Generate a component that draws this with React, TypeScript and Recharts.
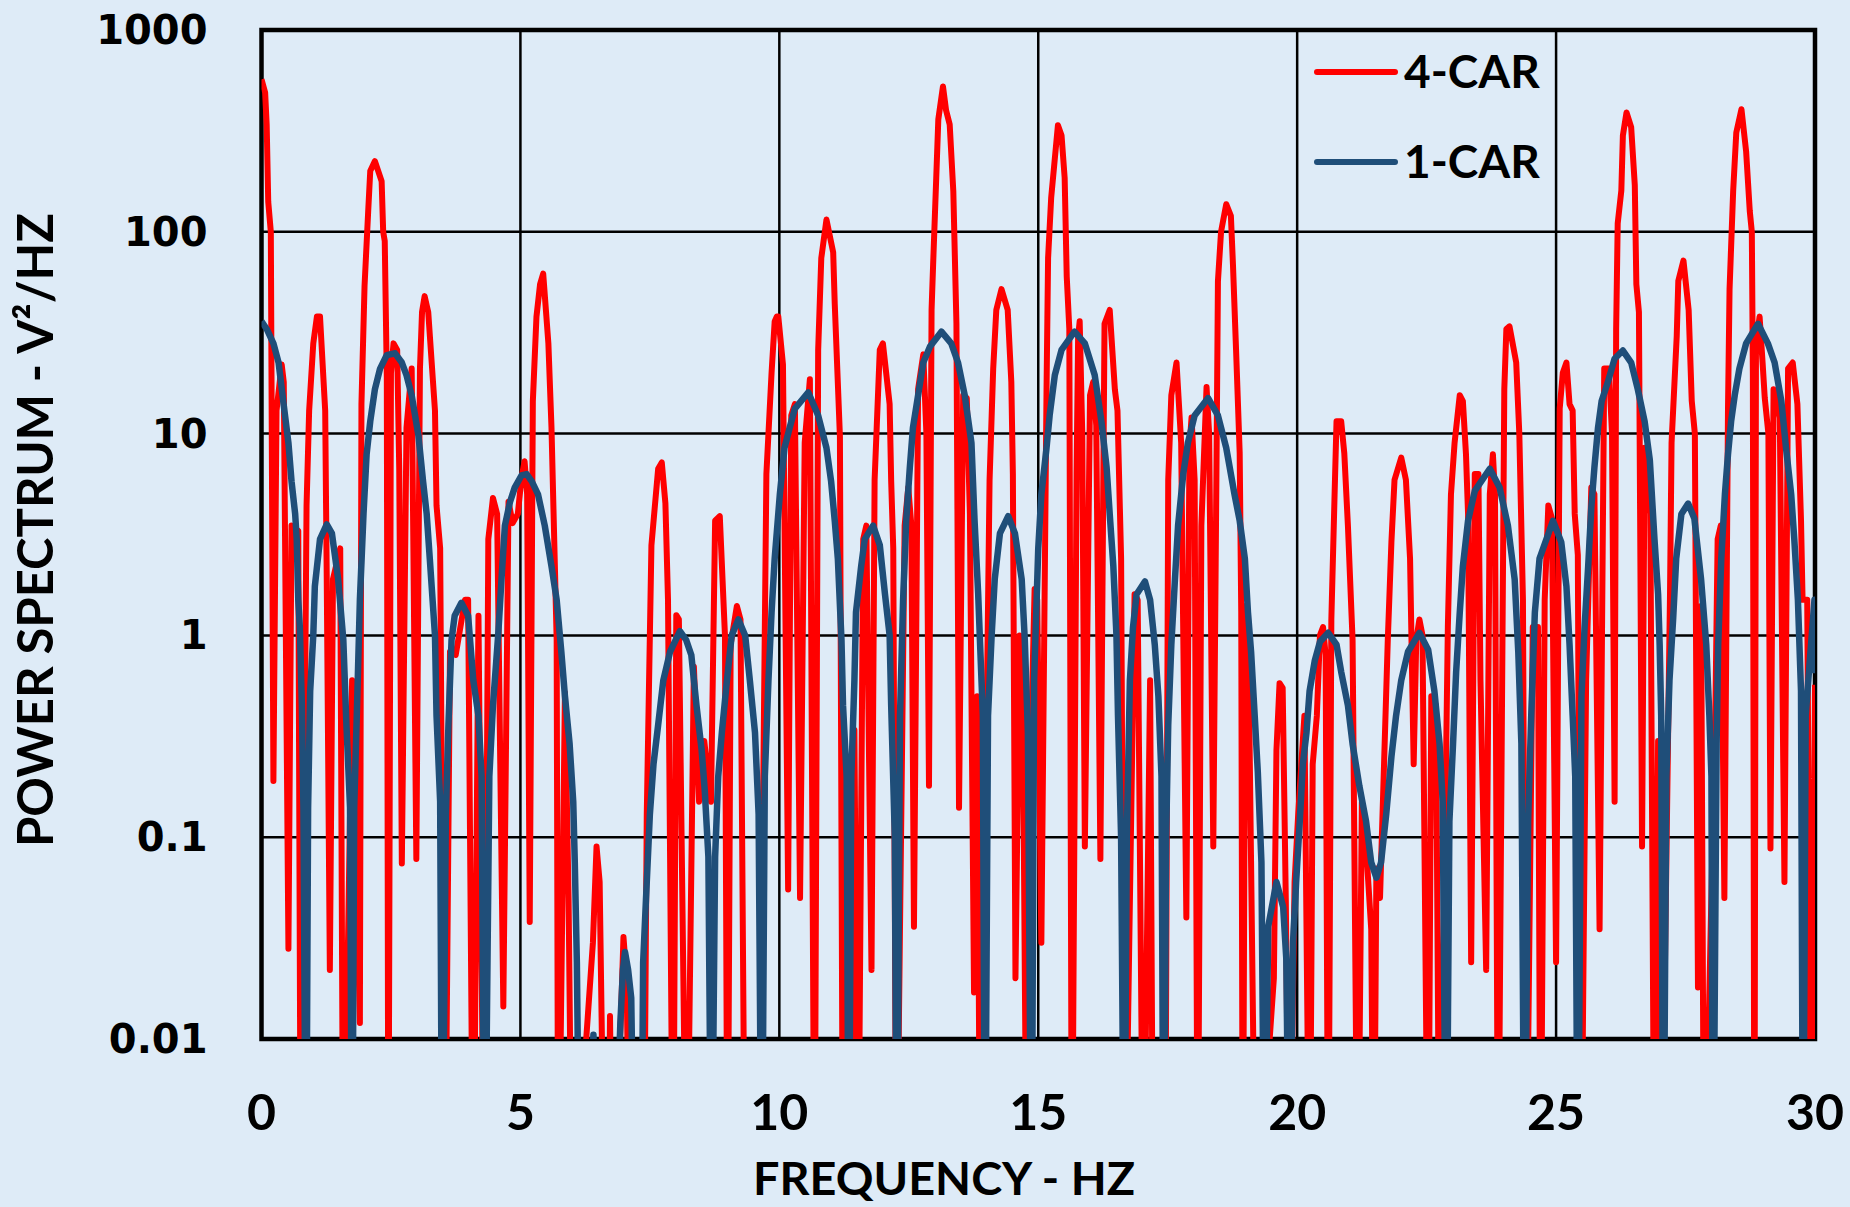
import React from 'react';
import {
  LineChart,
  Line,
  XAxis,
  YAxis,
  CartesianGrid,
  Legend,
  ReferenceArea,
} from 'recharts';

// [frequency Hz, power V²/Hz] — 4-car consist
const fourCar: [number, number][] = [
  [0.0, 570], [0.07, 490], [0.1, 340], [0.13, 141], [0.18, 100], [0.23, 0.19], [0.29, 13], [0.39, 22], [0.43, 18], [0.52, 0.028],
  [0.58, 3.5], [0.71, 3.3], [0.76, 0.001], [0.87, 4.4], [0.92, 13], [1.0, 28], [1.07, 38], [1.13, 38], [1.23, 13], [1.26, 1.9], [1.32, 0.022],
  [1.38, 1.9], [1.52, 2.7], [1.58, 0.001], [1.75, 0.6], [1.9, 0.012], [1.93, 14], [1.99, 54], [2.06, 126], [2.1, 200], [2.19, 224],
  [2.32, 178], [2.35, 100], [2.38, 90], [2.42, 19], [2.45, 0.001],
  [2.5, 20], [2.55, 28], [2.62, 26], [2.66, 6.7], [2.71, 0.074], [2.8, 10.7], [2.9, 21], [2.99, 0.078],
  [3.06, 21], [3.1, 40], [3.15, 48], [3.22, 40], [3.35, 13], [3.38, 4.4], [3.45, 2.7], [3.54, 0.001],
  [3.64, 0.83], [3.75, 0.8], [3.93, 1.5], [3.99, 1.5], [4.09, 0.001], [4.19, 1.25], [4.3, 0.001],
  [4.38, 3], [4.47, 4.8], [4.55, 4], [4.67, 0.0145], [4.77, 4.6], [4.85, 3.6], [4.95, 4], [5.02, 6], [5.08, 7.3], [5.13, 5], [5.18, 0.038],
  [5.24, 14.5], [5.31, 38], [5.38, 55], [5.44, 62], [5.54, 28], [5.6, 10.7], [5.7, 0.95], [5.73, 0.001],
  [5.86, 0.52], [5.93, 0.05], [6.0, 0.001],
  [6.4, 0.03], [6.47, 0.09], [6.53, 0.06], [6.63, 0.001],
  [6.7, 0.001], [6.73, 0.013], [6.78, 0.001], [6.95, 0.015], [6.99, 0.032], [7.05, 0.02], [7.12, 0.001],
  [7.38, 0.001], [7.44, 0.13], [7.53, 2.8], [7.66, 6.7], [7.73, 7.2], [7.8, 4.5], [7.85, 1.5], [7.95, 0.001],
  [8.01, 1.26], [8.06, 1.2], [8.21, 0.001],
  [8.35, 0.7], [8.45, 0.15], [8.55, 0.3], [8.68, 0.15], [8.76, 3.7], [8.85, 3.9], [8.95, 1.0], [9.0, 0.001],
  [9.06, 0.9], [9.18, 1.4], [9.25, 1.2], [9.34, 0.001],
  [9.6, 0.001], [9.75, 6.3], [9.85, 20], [9.91, 36], [9.95, 38], [9.98, 38], [10.07, 22], [10.17, 0.055],
  [10.23, 12.3], [10.3, 14], [10.4, 0.05],
  [10.49, 9], [10.59, 18.6], [10.68, 0.001],
  [10.75, 26], [10.81, 74], [10.91, 115], [11.04, 79], [11.07, 44], [11.17, 9.7], [11.23, 0.001],
  [11.38, 0.01], [11.45, 0.34], [11.52, 0.001],
  [11.62, 3], [11.68, 3.5], [11.78, 0.022],
  [11.84, 5.9], [11.94, 26], [12.0, 28], [12.13, 14], [12.16, 5.8], [12.2, 2.7], [12.26, 0.001],
  [12.42, 3.5], [12.49, 5.4], [12.55, 3.5], [12.6, 0.036],
  [12.68, 16.6], [12.78, 24.7], [12.84, 10], [12.89, 0.18],
  [12.94, 41], [12.97, 69], [13.03, 185], [13.07, 360], [13.16, 525], [13.22, 400], [13.29, 340], [13.36, 158], [13.42, 35], [13.47, 0.14],
  [13.55, 15.5], [13.62, 15], [13.68, 4], [13.76, 0.017],
  [13.82, 0.5], [13.88, 0.001],
  [14.06, 5.9], [14.13, 21], [14.19, 41], [14.29, 52], [14.41, 41], [14.48, 18], [14.51, 6.3], [14.56, 0.02],
  [14.64, 1.0], [14.7, 0.5], [14.78, 0.001],
  [14.88, 0.5], [14.93, 1.7], [14.98, 1.5], [15.06, 0.03],
  [15.16, 16.5], [15.19, 74], [15.25, 148], [15.38, 337], [15.45, 300], [15.51, 185], [15.55, 60], [15.6, 33], [15.65, 0.001],
  [15.74, 6.3], [15.77, 30], [15.8, 36], [15.85, 10], [15.9, 0.09],
  [16.0, 15.5], [16.06, 18], [16.12, 11], [16.2, 0.078],
  [16.28, 35], [16.38, 41], [16.48, 16.5], [16.53, 13], [16.6, 2.4], [16.67, 0.001],
  [16.86, 1.6], [16.92, 1.5], [17.03, 0.001], [17.16, 0.6], [17.22, 0.001],
  [17.45, 0.001], [17.51, 5.9], [17.57, 15.5], [17.67, 22.5], [17.76, 9], [17.86, 0.04],
  [17.92, 8.5], [17.96, 12], [18.02, 5.9], [18.08, 0.001],
  [18.15, 3.5], [18.25, 17], [18.3, 10], [18.38, 0.09],
  [18.44, 5.9], [18.47, 57], [18.53, 100], [18.63, 137], [18.72, 120], [18.76, 69], [18.82, 26], [18.89, 8], [18.92, 1.3], [18.95, 0.001],
  [19.0, 1.4], [19.05, 1.3], [19.2, 0.001],
  [19.55, 0.02], [19.6, 0.27], [19.66, 0.58], [19.72, 0.55], [19.78, 0.05], [19.85, 0.001],
  [19.95, 0.06], [20.02, 0.13], [20.08, 0.23], [20.14, 0.4], [20.24, 0.001],
  [20.3, 0.23], [20.38, 0.4], [20.44, 1.0], [20.5, 1.1], [20.55, 0.8], [20.6, 0.001],
  [20.66, 1.2], [20.72, 4.7], [20.76, 11.5], [20.85, 11.5], [20.91, 8], [20.98, 3.5], [21.07, 0.95], [21.17, 0.001],
  [21.25, 0.15], [21.3, 0.12], [21.43, 0.035], [21.48, 0.001], [21.53, 0.07], [21.6, 0.05],
  [21.75, 0.95], [21.82, 2.9], [21.88, 5.9], [22.01, 7.6], [22.1, 5.9], [22.18, 2.4], [22.25, 0.23], [22.3, 0.95], [22.36, 1.2], [22.42, 1.0], [22.53, 0.001],
  [22.59, 0.5], [22.68, 0.45], [22.75, 0.001],
  [22.91, 1.1], [22.97, 5], [23.04, 9], [23.14, 15.5], [23.2, 14.5], [23.26, 7.9], [23.3, 4], [23.36, 0.024],
  [23.43, 6.3], [23.5, 6.3], [23.54, 0.6], [23.65, 0.022],
  [23.72, 5], [23.78, 7.9], [23.82, 5], [23.88, 0.001],
  [24.0, 16.6], [24.04, 33], [24.1, 34], [24.23, 22.5], [24.29, 10], [24.36, 1.5], [24.42, 0.001],
  [24.55, 1.1], [24.65, 1.1], [24.7, 0.001],
  [24.78, 1.5], [24.85, 4.4], [24.92, 3.8], [25.0, 0.024],
  [25.07, 13.3], [25.13, 20], [25.2, 22.5], [25.26, 14], [25.32, 13], [25.36, 4], [25.42, 2.5], [25.48, 0.001],
  [25.58, 0.6], [25.68, 5.4], [25.74, 5], [25.84, 0.035],
  [25.9, 2.7], [25.93, 21], [26.02, 21], [26.08, 10], [26.13, 0.15],
  [26.16, 33], [26.19, 110], [26.26, 160], [26.29, 300], [26.36, 390], [26.45, 330], [26.52, 170], [26.55, 55], [26.6, 40], [26.66, 0.09],
  [26.71, 8.5], [26.75, 7.5], [26.82, 4], [26.9, 0.001],
  [26.97, 0.3], [27.03, 0.001],
  [27.2, 1.6], [27.23, 9], [27.33, 30.5], [27.36, 57], [27.46, 72], [27.56, 41], [27.62, 14.5], [27.68, 10], [27.74, 0.018],
  [27.8, 1.4], [27.86, 0.001],
  [28.08, 0.5], [28.12, 3], [28.18, 3.5], [28.25, 0.05],
  [28.32, 13.3], [28.35, 52], [28.42, 160], [28.48, 310], [28.58, 405], [28.67, 250], [28.74, 127], [28.78, 100], [28.8, 19.5], [28.83, 0.001],
  [28.86, 28], [28.93, 38], [28.99, 22], [29.03, 15], [29.1, 10], [29.14, 0.088],
  [29.2, 16.6], [29.25, 15], [29.32, 12], [29.41, 0.06],
  [29.48, 21], [29.57, 22.5], [29.66, 14], [29.73, 3.7], [29.76, 1.5], [29.85, 1.5], [29.93, 0.001], [30.0, 0.57],
];

// [frequency Hz, power V²/Hz] — single car
const oneCar: [number, number][] = [
  [0.0, 36], [0.1, 33], [0.23, 28], [0.33, 22.5], [0.42, 14.5], [0.52, 9], [0.58, 5.8], [0.65, 4], [0.68, 3], [0.71, 1.5],
  [0.74, 1.1], [0.78, 0.45], [0.81, 0.14], [0.86, 0.001], [0.9, 0.14], [0.94, 0.53], [1.0, 1.0], [1.03, 1.75], [1.13, 3],
  [1.26, 3.55], [1.36, 3.2], [1.48, 1.9], [1.58, 0.95], [1.64, 0.36], [1.71, 0.14], [1.75, 0.001], [1.79, 0.14], [1.84, 0.4],
  [1.9, 1.5], [1.97, 4], [2.03, 7.9], [2.1, 11.5], [2.19, 16.6], [2.29, 21], [2.42, 24.5], [2.58, 25], [2.71, 22.5], [2.8, 19.5],
  [2.9, 15.5], [3.03, 9.8], [3.12, 5.8], [3.19, 4], [3.25, 2.4], [3.35, 1.0], [3.38, 0.4], [3.45, 0.15], [3.49, 0.001],
  [3.56, 0.13], [3.61, 0.36], [3.67, 0.95], [3.73, 1.25], [3.86, 1.45], [3.99, 1.25], [4.09, 0.6], [4.19, 0.4], [4.25, 0.2],
  [4.31, 0.001], [4.4, 0.2], [4.47, 0.45], [4.57, 1.0], [4.64, 2], [4.7, 3.5], [4.8, 4.6], [4.89, 5.4], [5.02, 6.2], [5.12, 6.3],
  [5.22, 5.8], [5.34, 5], [5.47, 3.5], [5.6, 2.2], [5.7, 1.5], [5.79, 0.83], [5.86, 0.5], [5.95, 0.29], [6.02, 0.15],
  [6.05, 0.075], [6.09, 0.024], [6.15, 0.001], [6.36, 0.005], [6.41, 0.0105], [6.46, 0.005],
  [6.88, 0.005], [6.93, 0.012], [6.98, 0.022], [7.02, 0.027], [7.08, 0.022], [7.14, 0.016], [7.21, 0.001],
  [7.33, 0.001], [7.37, 0.024], [7.44, 0.06], [7.5, 0.13], [7.57, 0.23], [7.66, 0.36], [7.76, 0.6], [7.89, 0.83], [8.08, 1.05],
  [8.2, 0.95], [8.3, 0.8], [8.4, 0.45], [8.5, 0.27], [8.56, 0.17], [8.63, 0.08], [8.69, 0.001], [8.76, 0.08], [8.82, 0.2],
  [8.89, 0.33], [8.98, 0.57], [9.08, 1.0], [9.21, 1.2], [9.34, 1.0], [9.43, 0.6], [9.53, 0.33], [9.6, 0.13], [9.66, 0.001],
  [9.72, 0.2], [9.79, 0.6], [9.85, 1.3], [9.91, 2.4], [10.01, 5], [10.1, 8.5], [10.2, 10.7], [10.3, 13.3], [10.56, 16],
  [10.75, 12.3], [10.91, 8.5], [11.0, 5.8], [11.07, 3.7], [11.13, 2.4], [11.2, 0.95], [11.23, 0.45], [11.3, 0.2], [11.34, 0.001],
  [11.39, 0.2], [11.45, 0.6], [11.48, 1.3], [11.58, 2.2], [11.65, 3], [11.81, 3.5], [11.94, 2.8], [12.04, 1.6], [12.13, 1.0],
  [12.16, 0.45], [12.23, 0.1], [12.27, 0.001], [12.33, 0.4], [12.39, 1.5], [12.45, 3.7], [12.52, 6.8], [12.58, 10.7],
  [12.68, 15.5], [12.78, 22.5], [12.91, 27], [13.13, 32], [13.32, 28], [13.45, 22.5], [13.58, 15.5], [13.71, 9], [13.77, 3.7],
  [13.84, 1.6], [13.93, 0.4], [13.97, 0.001], [14.03, 0.4], [14.1, 1.0], [14.16, 1.9], [14.26, 3.2], [14.42, 3.9], [14.55, 3.2],
  [14.68, 1.9], [14.74, 0.95], [14.8, 0.33], [14.87, 0.001], [14.92, 0.6], [15.0, 2.7], [15.06, 5], [15.16, 8.5], [15.22, 12.3],
  [15.32, 19.5], [15.45, 26], [15.7, 32], [15.9, 28], [16.09, 19.5], [16.22, 11.5], [16.32, 6.8], [16.38, 4], [16.45, 2.2],
  [16.51, 1.0], [16.54, 0.4], [16.6, 0.1], [16.66, 0.001], [16.71, 0.1], [16.77, 0.6], [16.83, 1.1], [16.9, 1.6], [17.06, 1.85],
  [17.16, 1.5], [17.25, 0.9], [17.32, 0.5], [17.38, 0.2], [17.42, 0.001], [17.47, 0.1], [17.51, 0.36], [17.57, 0.9],
  [17.64, 1.9], [17.7, 3.5], [17.8, 6.3], [17.89, 9], [18.02, 12.3], [18.28, 15], [18.47, 12.3], [18.63, 8.5], [18.79, 5],
  [18.89, 3.7], [18.99, 2.4], [19.05, 1.3], [19.11, 0.83], [19.18, 0.4], [19.24, 0.21], [19.31, 0.075], [19.37, 0.001],
  [19.44, 0.036], [19.6, 0.06], [19.73, 0.045], [19.79, 0.025], [19.85, 0.001], [19.92, 0.03], [19.98, 0.06], [20.05, 0.12],
  [20.11, 0.23], [20.18, 0.33], [20.24, 0.53], [20.34, 0.75], [20.44, 0.93], [20.6, 1.03], [20.76, 0.9], [20.85, 0.66],
  [20.98, 0.45], [21.07, 0.29], [21.2, 0.18], [21.33, 0.12], [21.43, 0.075], [21.53, 0.063], [21.62, 0.075], [21.72, 0.13],
  [21.82, 0.25], [21.91, 0.4], [22.01, 0.6], [22.14, 0.83], [22.36, 1.03], [22.53, 0.85], [22.65, 0.53], [22.75, 0.29],
  [22.81, 0.15], [22.88, 0.001], [22.94, 0.12], [23.01, 0.29], [23.07, 0.66], [23.14, 1.3], [23.2, 2.2], [23.3, 3.7],
  [23.43, 5.2], [23.72, 6.7], [23.91, 5.4], [24.07, 3.5], [24.2, 1.9], [24.27, 0.83], [24.33, 0.29], [24.39, 0.001],
  [24.46, 0.12], [24.52, 0.4], [24.59, 1.3], [24.68, 2.4], [24.94, 3.7], [25.1, 2.9], [25.2, 1.75], [25.26, 0.9], [25.32, 0.4],
  [25.37, 0.2], [25.42, 0.001], [25.49, 0.5], [25.55, 1.1], [25.62, 2.2], [25.68, 4.3], [25.74, 6.8], [25.81, 10.7],
  [25.88, 14.5], [26.0, 18], [26.13, 23.5], [26.29, 25.8], [26.45, 22.5], [26.58, 16.5], [26.71, 11.5], [26.81, 7.4],
  [26.9, 3], [26.97, 1.6], [27.0, 0.9], [27.03, 0.4], [27.07, 0.001], [27.13, 0.2], [27.19, 0.6], [27.26, 1.2], [27.32, 2.4],
  [27.42, 4], [27.55, 4.5], [27.67, 3.8], [27.8, 1.9], [27.9, 0.9], [27.96, 0.4], [28.0, 0.2], [28.03, 0.001], [28.1, 0.29],
  [28.13, 0.9], [28.19, 2.4], [28.26, 5], [28.32, 7.9], [28.38, 11.5], [28.45, 15.5], [28.54, 21], [28.67, 28], [28.9, 35],
  [29.09, 28], [29.22, 22.5], [29.35, 14.5], [29.44, 8.5], [29.54, 5], [29.6, 3], [29.67, 1.5], [29.73, 0.53], [29.77, 0.001],
  [29.82, 0.4], [29.89, 0.7], [29.95, 1.1], [29.99, 1.5], [30.0, 0.65],
];

const seriesNames = ['4-CAR', '1-CAR'];
const freqTicks = [0, 5, 10, 15, 20, 25, 30];
const psdTicks = [0.01, 0.1, 1, 10, 100, 1000];

const BG = '#DEEBF7';
const RED = '#FF0000';
const NAVY = '#1F4E79';
const LABEL_FONT = 'Lato, "Open Sans", sans-serif';

const toRows = (pts: [number, number][]) => pts.map(([freq, psd]) => ({ freq, psd }));

const FreqTick = ({ x, y, payload }: any) => (
  <text x={x} y={y + 91} textAnchor="middle" fontFamily={LABEL_FONT} fontWeight={700} fontSize={50} fill="#000">
    {payload.value}
  </text>
);

const PsdTick = ({ x, y, payload }: any) => (
  <text x={x} y={y} textAnchor="end" dominantBaseline="central" fontFamily="'DejaVu Sans', sans-serif" fontWeight={700} fontSize={40} fill="#000">
    {String(payload.value)}
  </text>
);

const yTitle = () => (
  <text
    transform="translate(53, 530) rotate(-90)"
    textAnchor="middle"
    fontFamily={LABEL_FONT}
    fontWeight={700}
    fontSize={49}
    textLength={634}
    lengthAdjust="spacingAndGlyphs"
    fill="#000"
  >
    POWER SPECTRUM - V²/HZ
  </text>
);

const xTitle = () => (
  <text
    x={944}
    y={1195}
    textAnchor="middle"
    fontFamily={LABEL_FONT}
    fontWeight={700}
    fontSize={46}
    textLength={382}
    lengthAdjust="spacingAndGlyphs"
    fill="#000"
  >
    FREQUENCY - HZ
  </text>
);

// legend rows in the same order as the series are listed
const SeriesKey = ({ payload }: any) => {
  const rows = [...(payload || [])].sort(
    (a: any, b: any) => seriesNames.indexOf(a.value) - seriesNames.indexOf(b.value),
  );
  return (
    <svg width={300} height={190} style={{ display: 'block', overflow: 'visible' }}>
      {rows.map((entry: any, i: number) => (
        <g key={entry.value} transform={`translate(0, ${i * 90})`}>
          <line x1={6} y1={27} x2={84} y2={27} stroke={entry.color} strokeWidth={6} strokeLinecap="round" />
          <text x={93} y={43} fontFamily={LABEL_FONT} fontWeight={700} fontSize={46} fill="#000">
            {entry.value}
          </text>
        </g>
      ))}
    </svg>
  );
};

export default function App() {
  return (
    <div style={{ position: 'absolute', left: 0, top: 0, width: 1850, height: 1207, background: BG }}>
      <LineChart width={1850} height={1207} margin={{ top: 30, right: 35, bottom: 108, left: 201.5 }}>
        <CartesianGrid stroke="#000" strokeWidth={2.5} horizontalValues={psdTicks} verticalValues={freqTicks} />
        <XAxis
          type="number"
          dataKey="freq"
          domain={[0, 30]}
          ticks={freqTicks}
          allowDataOverflow
          height={60}
          axisLine={false}
          tickLine={false}
          tickSize={0}
          tickMargin={0}
          tick={<FreqTick />}
          label={xTitle}
        />
        <YAxis
          type="number"
          scale="log"
          domain={[0.01, 1000]}
          ticks={psdTicks}
          allowDataOverflow
          width={60}
          axisLine={false}
          tickLine={false}
          tickSize={0}
          tickMargin={54}
          tick={<PsdTick />}
          label={yTitle}
        />
        <Line
          data={toRows(fourCar)}
          dataKey="psd"
          name={seriesNames[0]}
          type="linear"
          stroke={RED}
          strokeWidth={6}
          strokeLinejoin="round"
          dot={false}
          activeDot={false}
          isAnimationActive={false}
        />
        <Line
          data={toRows(oneCar)}
          dataKey="psd"
          name={seriesNames[1]}
          type="linear"
          stroke={NAVY}
          strokeWidth={6.5}
          strokeLinejoin="round"
          dot={false}
          activeDot={false}
          isAnimationActive={false}
        />
        <ReferenceArea x1={0} x2={30} y1={0.01} y2={1000} fill="none" stroke="#000" strokeWidth={4.5} ifOverflow="visible" />
        <Legend
          layout="horizontal"
          verticalAlign="middle"
          align="center"
          itemSorter={null}
          wrapperStyle={{ position: 'absolute', left: 1311, top: 45, width: 300, height: 190 }}
          content={<SeriesKey />}
        />
      </LineChart>
    </div>
  );
}
